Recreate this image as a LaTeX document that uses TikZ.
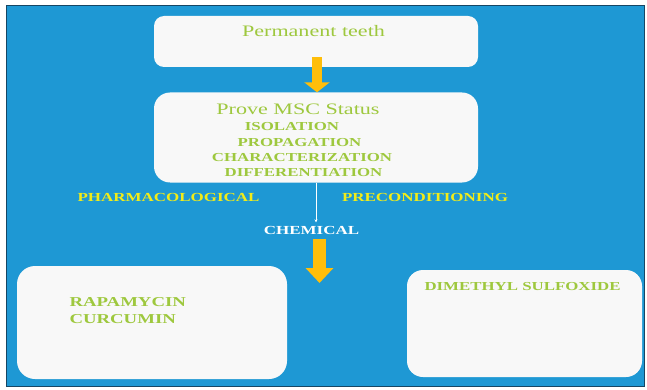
\documentclass[tikz,border=0pt]{standalone}
\usepackage{fontspec}
\setmainfont{Liberation Serif}[FakeStretch=1.38]
\usetikzlibrary{arrows.meta}

\definecolor{bgblue}{RGB}{30,152,212}
\definecolor{bgedge}{RGB}{22,70,100}
\definecolor{boxfill}{RGB}{248,248,248}
\definecolor{txtgreen}{RGB}{158,200,62}
\definecolor{txtyellow}{RGB}{242,236,24}
\definecolor{arrorange}{RGB}{255,190,10}

\begin{document}
\begin{tikzpicture}[x=1pt,y=-1pt]
  % Base settings
  \tikzset{
    stagebox/.style={draw=none, fill=boxfill, inner sep=0pt},
    title/.style={text=txtgreen, anchor=base, font=\fontsize{16}{18}\selectfont},
    item/.style={text=txtgreen, anchor=base, font=\bfseries\fontsize{12.2}{14}\selectfont},
    route/.style={text=txtyellow, anchor=base, font=\bfseries\fontsize{12.3}{14}\selectfont},
    fatarrow/.style={draw=arrorange, line width=10pt, -{Triangle[width=25pt,length=10pt]}},
    thinline/.style={draw=white, line width=0.6pt, -{Stealth[length=3pt,width=3pt]}}
  }

  \useasboundingbox (0,0) rectangle (647,390);

  % --- Background ---
  \fill[white] (0,0) rectangle (647,390);
  \draw[fill=bgblue, draw=bgedge, line width=1.5pt] (6.5,5.5) rectangle (644.5,386.5);

  % --- Boxes ---
  \node[stagebox, minimum width=324pt, minimum height=51pt, rounded corners=10pt]
    (teeth) at (316,41.5) {};
  \node[stagebox, minimum width=324pt, minimum height=90pt, rounded corners=16pt]
    (msc) at (316,137.5) {};
  \node[stagebox, minimum width=270pt, minimum height=113pt, rounded corners=18pt]
    (pharma) at (152,322.5) {};
  \node[stagebox, minimum width=235pt, minimum height=107pt, rounded corners=16pt]
    (precond) at (524.5,323.5) {};

  % --- Texts ---
  \node[title] (teethtxt) at (313.5,37) {Permanent teeth};
  \node[title] (msctxt) at (298,115) {Prove MSC Status};
  \node[item] (iso) at (292,130.7) {ISOLATION};
  \node[item] (prop) at (299.5,146.7) {PROPAGATION};
  \node[item] (charac) at (302,161.7) {CHARACTERIZATION};
  \node[item] (diff) at (303.5,176.7) {DIFFERENTIATION};

  \node[route] (pharmtxt) at (168.5,201.7) {PHARMACOLOGICAL};
  \node[route] (precotxt) at (425,201.7) {PRECONDITIONING};
  \node[route, text=white] (chem) at (311.5,234) {CHEMICAL};

  \node[item, font=\bfseries\fontsize{13.6}{15}\selectfont, anchor=base west]
    (rapa) at (66,306.7) {RAPAMYCIN};
  \node[item, font=\bfseries\fontsize{13.6}{15}\selectfont, anchor=base west]
    (curc) at (66,323) {CURCUMIN};
  \node[item, anchor=base west] (dmso) at (421,290.7) {DIMETHYL SULFOXIDE};

  % --- Connectors ---
  \draw[fatarrow] ([xshift=1pt, yshift=10pt]teeth.south) -- ([xshift=1pt]msc.north);
  \draw[thinline] (msc.south) -- (msc.south |- chem.north);
  \coordinate (chemtip) at (319.5,283);
  \draw[fatarrow, line width=13pt, -{Triangle[width=27pt,length=15pt]}]
    (chemtip |- {(0,239)}) -- (chemtip);

\end{tikzpicture}
\end{document}
